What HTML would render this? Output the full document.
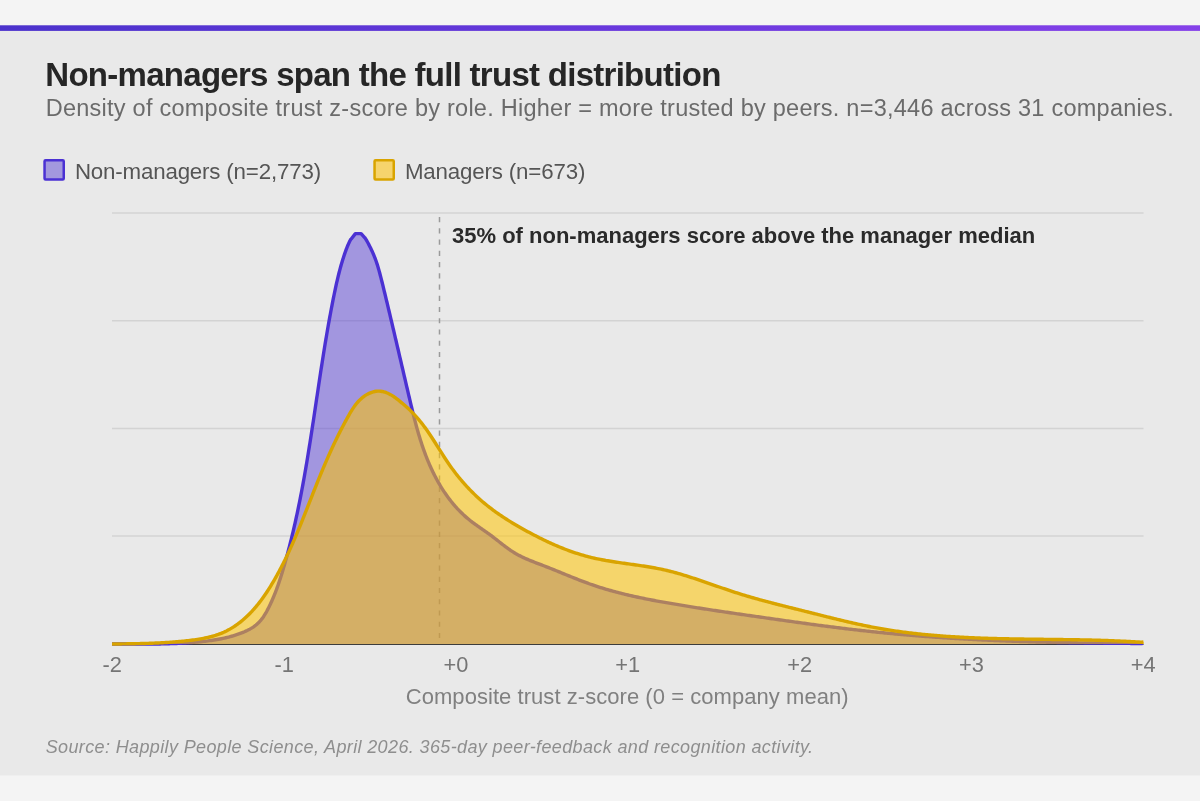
<!DOCTYPE html>
<html><head><meta charset="utf-8"><title>Non-managers span the full trust distribution</title>
<style>
html,body{margin:0;padding:0;}
body{width:1200px;height:801px;overflow:hidden;background:#f4f4f4;font-family:"Liberation Sans",sans-serif;position:relative;}
svg{position:absolute;left:0;top:0;will-change:transform;}
text{font-family:"Liberation Sans",sans-serif;}
</style></head>
<body>
<svg width="1200" height="801" viewBox="0 0 1200 801">
  <defs><linearGradient id="gb" x1="0" y1="0" x2="1" y2="0"><stop offset="0" stop-color="#4b32cc"/><stop offset="0.5" stop-color="#6838dc"/><stop offset="1" stop-color="#8541e9"/></linearGradient></defs>
  <rect x="0" y="25.3" width="1200" height="750.2" fill="#e9e9e9"/>
  <rect x="0" y="25.3" width="1200" height="5.6" fill="url(#gb)"/>
  <!-- header -->
  <text x="45.3" y="86" font-size="33" font-weight="bold" fill="#262626" letter-spacing="-0.72">Non-managers span the full trust distribution</text>
  <text x="45.7" y="115.7" font-size="23.5" fill="#6b6b6b" letter-spacing="0.25">Density of composite trust z-score by role. Higher = more trusted by peers. n=3,446 across 31 companies.</text>
  <!-- legend -->
  <rect x="44.55" y="160.25" width="19.2" height="19.2" rx="1" fill="#a398de" stroke="#4b31d3" stroke-width="2.5"/>
  <text x="74.9" y="178.9" font-size="22.3" fill="#555555" letter-spacing="-0.17">Non-managers (n=2,773)</text>
  <rect x="374.55" y="160.25" width="19.2" height="19.2" rx="1" fill="#f6d46c" stroke="#d9a400" stroke-width="2.5"/>
  <text x="404.9" y="178.9" font-size="22.3" fill="#555555" letter-spacing="-0.16">Managers (n=673)</text>
  <!-- grid -->
  <g stroke="#d3d3d3" stroke-width="1.5">
    <line x1="112" y1="213" x2="1143.5" y2="213"/>
    <line x1="112" y1="320.7" x2="1143.5" y2="320.7"/>
    <line x1="112" y1="428.4" x2="1143.5" y2="428.4"/>
    <line x1="112" y1="536.1" x2="1143.5" y2="536.1"/>
  </g>
  <line x1="112" y1="644.5" x2="1143.5" y2="644.5" stroke="#3c3c3c" stroke-width="1"/>
  <line x1="439.5" y1="217" x2="439.5" y2="644" stroke="#9a9a9a" stroke-width="1.5" stroke-dasharray="5.2 6.04"/>
  <!-- areas -->
  <path d="M112.00,644.00 L113.50,643.98 L115.01,643.99 L116.51,643.99 L118.01,643.99 L119.52,644.00 L121.02,644.00 L122.53,644.01 L124.03,644.01 L125.54,644.02 L127.04,644.03 L128.54,644.03 L130.05,644.04 L131.55,644.05 L133.05,644.05 L134.56,644.06 L136.06,644.06 L137.56,644.06 L139.07,644.07 L140.57,644.07 L142.07,644.07 L143.57,644.07 L145.08,644.06 L146.58,644.06 L148.08,644.05 L149.58,644.05 L151.08,644.04 L152.59,644.03 L154.09,644.01 L155.59,644.00 L157.09,643.98 L158.59,643.95 L160.09,643.93 L161.59,643.90 L163.09,643.87 L164.59,643.84 L166.09,643.80 L167.59,643.76 L169.09,643.72 L170.59,643.67 L172.09,643.62 L173.59,643.56 L175.09,643.50 L176.59,643.44 L178.09,643.37 L179.59,643.30 L181.09,643.22 L182.59,643.14 L184.09,643.05 L185.59,642.96 L187.08,642.87 L188.58,642.76 L190.08,642.66 L191.58,642.54 L193.08,642.42 L194.57,642.30 L196.07,642.17 L197.57,642.03 L199.06,641.89 L200.56,641.74 L202.06,641.58 L203.55,641.42 L205.05,641.25 L206.54,641.07 L208.04,640.89 L209.53,640.69 L211.02,640.48 L212.51,640.26 L214.00,640.04 L215.48,639.80 L216.97,639.55 L218.45,639.28 L219.93,639.01 L221.40,638.72 L222.87,638.41 L224.34,638.09 L225.81,637.76 L227.27,637.41 L228.73,637.04 L230.18,636.66 L231.63,636.26 L233.07,635.84 L234.51,635.40 L235.95,634.95 L237.38,634.47 L238.81,633.98 L240.23,633.46 L241.64,632.92 L243.04,632.36 L244.43,631.78 L245.81,631.16 L247.17,630.52 L248.51,629.85 L249.83,629.14 L251.12,628.40 L252.38,627.62 L253.62,626.80 L254.81,625.94 L255.97,625.03 L257.10,624.08 L258.18,623.09 L259.21,622.04 L260.20,620.95 L261.16,619.82 L262.07,618.64 L262.95,617.44 L263.80,616.20 L264.61,614.93 L265.40,613.64 L266.17,612.33 L266.91,611.00 L267.62,609.65 L268.32,608.29 L269.01,606.93 L269.68,605.56 L270.33,604.19 L270.97,602.81 L271.60,601.43 L272.22,600.04 L272.82,598.65 L273.41,597.26 L273.99,595.86 L274.56,594.46 L275.12,593.06 L275.67,591.65 L276.20,590.24 L276.73,588.83 L277.25,587.41 L277.76,585.99 L278.26,584.57 L278.75,583.15 L279.23,581.72 L279.71,580.29 L280.18,578.86 L280.64,577.43 L281.09,576.00 L281.54,574.56 L281.99,573.12 L282.42,571.69 L282.86,570.25 L283.28,568.80 L283.71,567.36 L284.13,565.92 L284.54,564.47 L284.95,563.03 L285.36,561.58 L285.77,560.14 L286.17,558.69 L286.57,557.24 L286.96,555.79 L287.36,554.35 L287.75,552.90 L288.13,551.45 L288.51,549.99 L288.89,548.54 L289.27,547.09 L289.64,545.64 L290.01,544.18 L290.38,542.73 L290.74,541.27 L291.11,539.82 L291.46,538.36 L291.82,536.91 L292.17,535.45 L292.52,533.99 L292.87,532.53 L293.21,531.07 L293.55,529.61 L293.89,528.15 L294.23,526.69 L294.56,525.23 L294.89,523.77 L295.22,522.31 L295.55,520.84 L295.87,519.38 L296.19,517.91 L296.51,516.45 L296.82,514.98 L297.14,513.52 L297.45,512.05 L297.76,510.59 L298.06,509.12 L298.37,507.65 L298.67,506.18 L298.97,504.71 L299.27,503.24 L299.56,501.77 L299.85,500.30 L300.15,498.83 L300.43,497.36 L300.72,495.89 L301.01,494.42 L301.29,492.95 L301.57,491.47 L301.85,490.00 L302.13,488.53 L302.40,487.05 L302.68,485.58 L302.95,484.10 L303.22,482.63 L303.49,481.15 L303.75,479.68 L304.02,478.20 L304.28,476.72 L304.54,475.25 L304.80,473.77 L305.06,472.29 L305.32,470.81 L305.58,469.34 L305.83,467.86 L306.08,466.38 L306.34,464.90 L306.59,463.42 L306.84,461.94 L307.08,460.46 L307.33,458.98 L307.57,457.50 L307.82,456.02 L308.06,454.54 L308.30,453.05 L308.54,451.57 L308.78,450.09 L309.02,448.61 L309.26,447.12 L309.50,445.64 L309.73,444.16 L309.97,442.68 L310.20,441.19 L310.43,439.71 L310.67,438.22 L310.90,436.74 L311.13,435.26 L311.36,433.77 L311.59,432.29 L311.82,430.80 L312.05,429.32 L312.27,427.83 L312.50,426.35 L312.73,424.86 L312.95,423.37 L313.18,421.89 L313.40,420.40 L313.63,418.92 L313.85,417.43 L314.07,415.94 L314.30,414.46 L314.52,412.97 L314.74,411.48 L314.97,410.00 L315.19,408.51 L315.41,407.02 L315.63,405.54 L315.86,404.05 L316.08,402.56 L316.30,401.07 L316.52,399.59 L316.74,398.10 L316.97,396.61 L317.19,395.13 L317.41,393.64 L317.63,392.15 L317.86,390.66 L318.08,389.18 L318.30,387.69 L318.53,386.20 L318.75,384.71 L318.97,383.23 L319.20,381.74 L319.42,380.25 L319.65,378.77 L319.87,377.28 L320.10,375.79 L320.33,374.30 L320.55,372.82 L320.78,371.33 L321.01,369.84 L321.24,368.36 L321.47,366.87 L321.70,365.38 L321.93,363.90 L322.16,362.41 L322.39,360.92 L322.63,359.44 L322.86,357.95 L323.10,356.47 L323.33,354.98 L323.57,353.49 L323.81,352.01 L324.05,350.52 L324.29,349.04 L324.53,347.55 L324.77,346.07 L325.02,344.58 L325.26,343.10 L325.51,341.61 L325.75,340.13 L326.00,338.65 L326.25,337.16 L326.50,335.68 L326.75,334.20 L327.01,332.71 L327.26,331.23 L327.52,329.75 L327.78,328.27 L328.04,326.78 L328.30,325.30 L328.56,323.82 L328.83,322.34 L329.09,320.86 L329.36,319.38 L329.63,317.90 L329.90,316.42 L330.17,314.94 L330.45,313.46 L330.72,311.98 L331.00,310.50 L331.28,309.02 L331.56,307.54 L331.85,306.06 L332.13,304.59 L332.42,303.11 L332.71,301.63 L333.00,300.16 L333.30,298.68 L333.60,297.20 L333.89,295.73 L334.20,294.25 L334.50,292.78 L334.81,291.31 L335.12,289.83 L335.43,288.36 L335.75,286.89 L336.07,285.42 L336.39,283.95 L336.72,282.49 L337.06,281.02 L337.40,279.56 L337.75,278.10 L338.10,276.64 L338.46,275.18 L338.82,273.72 L339.19,272.27 L339.57,270.82 L339.95,269.37 L340.34,267.93 L340.74,266.49 L341.15,265.05 L341.56,263.61 L341.99,262.18 L342.42,260.74 L342.86,259.32 L343.31,257.89 L343.77,256.47 L344.24,255.06 L344.71,253.65 L345.20,252.24 L345.70,250.83 L346.22,249.43 L346.76,248.03 L347.31,246.64 L347.89,245.25 L348.50,243.86 L349.14,242.47 L349.82,241.09 L350.53,239.70 L351.00,239.20 L355.40,233.60 L361.10,233.60 L365.10,238.10 L365.13,238.05 L365.95,239.37 L366.72,240.69 L367.47,241.99 L368.18,243.30 L368.87,244.60 L369.55,245.92 L370.21,247.24 L370.86,248.58 L371.50,249.93 L372.13,251.28 L372.74,252.65 L373.34,254.03 L373.92,255.42 L374.49,256.82 L375.03,258.22 L375.56,259.63 L376.07,261.04 L376.56,262.47 L377.03,263.89 L377.49,265.33 L377.93,266.76 L378.36,268.21 L378.77,269.65 L379.18,271.10 L379.57,272.55 L379.96,274.00 L380.34,275.45 L380.72,276.91 L381.10,278.37 L381.47,279.82 L381.84,281.28 L382.21,282.74 L382.57,284.20 L382.93,285.67 L383.29,287.13 L383.64,288.59 L384.00,290.05 L384.35,291.52 L384.71,292.98 L385.06,294.44 L385.41,295.90 L385.76,297.37 L386.11,298.83 L386.47,300.29 L386.82,301.75 L387.17,303.21 L387.52,304.67 L387.86,306.14 L388.21,307.60 L388.56,309.06 L388.91,310.52 L389.26,311.98 L389.61,313.44 L389.95,314.90 L390.30,316.37 L390.64,317.83 L390.99,319.29 L391.34,320.75 L391.68,322.21 L392.03,323.67 L392.37,325.13 L392.72,326.59 L393.06,328.05 L393.40,329.51 L393.75,330.97 L394.09,332.43 L394.44,333.90 L394.78,335.36 L395.12,336.82 L395.46,338.28 L395.81,339.74 L396.15,341.20 L396.49,342.66 L396.83,344.12 L397.17,345.58 L397.52,347.04 L397.86,348.50 L398.20,349.96 L398.54,351.42 L398.88,352.89 L399.22,354.35 L399.56,355.81 L399.90,357.27 L400.24,358.73 L400.58,360.19 L400.93,361.65 L401.27,363.12 L401.61,364.58 L401.95,366.04 L402.29,367.50 L402.63,368.96 L402.97,370.43 L403.31,371.89 L403.65,373.35 L403.99,374.81 L404.33,376.28 L404.67,377.74 L405.01,379.20 L405.35,380.66 L405.69,382.13 L406.03,383.59 L406.37,385.05 L406.71,386.52 L407.06,387.98 L407.40,389.45 L407.74,390.91 L408.08,392.38 L408.42,393.84 L408.76,395.31 L409.11,396.77 L409.45,398.24 L409.79,399.70 L410.14,401.17 L410.48,402.63 L410.83,404.10 L411.18,405.56 L411.53,407.02 L411.88,408.49 L412.23,409.95 L412.59,411.41 L412.95,412.87 L413.31,414.33 L413.68,415.79 L414.05,417.25 L414.42,418.71 L414.80,420.17 L415.18,421.62 L415.56,423.08 L415.95,424.53 L416.34,425.98 L416.74,427.43 L417.14,428.88 L417.55,430.32 L417.96,431.77 L418.38,433.21 L418.80,434.65 L419.23,436.09 L419.67,437.53 L420.11,438.96 L420.56,440.39 L421.02,441.82 L421.48,443.25 L421.95,444.68 L422.43,446.10 L422.91,447.52 L423.41,448.94 L423.91,450.35 L424.42,451.76 L424.93,453.17 L425.46,454.58 L425.99,455.98 L426.54,457.38 L427.09,458.77 L427.65,460.17 L428.23,461.55 L428.81,462.94 L429.40,464.32 L430.00,465.70 L430.62,467.07 L431.24,468.44 L431.88,469.81 L432.52,471.17 L433.17,472.53 L433.84,473.88 L434.52,475.22 L435.21,476.56 L435.90,477.89 L436.61,479.22 L437.33,480.54 L438.07,481.85 L438.81,483.16 L439.57,484.46 L440.33,485.75 L441.11,487.03 L441.90,488.31 L442.71,489.57 L443.52,490.83 L444.35,492.08 L445.19,493.32 L446.04,494.56 L446.90,495.78 L447.78,496.99 L448.67,498.19 L449.57,499.39 L450.48,500.57 L451.41,501.74 L452.35,502.90 L453.30,504.05 L454.27,505.19 L455.25,506.31 L456.24,507.43 L457.25,508.53 L458.27,509.62 L459.30,510.69 L460.35,511.76 L461.41,512.81 L462.48,513.84 L463.57,514.87 L464.68,515.88 L465.79,516.87 L466.92,517.85 L468.07,518.82 L469.23,519.77 L470.41,520.71 L471.60,521.63 L472.80,522.54 L474.01,523.44 L475.23,524.33 L476.46,525.21 L477.70,526.08 L478.94,526.95 L480.18,527.81 L481.43,528.68 L482.68,529.54 L483.93,530.41 L485.18,531.28 L486.42,532.15 L487.66,533.03 L488.90,533.91 L490.12,534.81 L491.34,535.72 L492.55,536.63 L493.75,537.56 L494.95,538.48 L496.14,539.42 L497.33,540.35 L498.52,541.29 L499.71,542.23 L500.89,543.16 L502.08,544.09 L503.27,545.01 L504.46,545.92 L505.66,546.82 L506.87,547.72 L508.08,548.59 L509.30,549.46 L510.53,550.30 L511.77,551.13 L513.02,551.94 L514.28,552.72 L515.56,553.49 L516.85,554.22 L518.15,554.94 L519.47,555.63 L520.80,556.31 L522.14,556.96 L523.49,557.60 L524.85,558.23 L526.21,558.83 L527.59,559.43 L528.97,560.01 L530.36,560.58 L531.76,561.15 L533.16,561.70 L534.56,562.25 L535.97,562.79 L537.38,563.33 L538.79,563.87 L540.20,564.40 L541.61,564.94 L543.03,565.47 L544.44,566.01 L545.85,566.56 L547.25,567.10 L548.66,567.65 L550.06,568.21 L551.46,568.77 L552.86,569.33 L554.26,569.89 L555.66,570.46 L557.05,571.02 L558.44,571.59 L559.84,572.16 L561.23,572.73 L562.62,573.31 L564.01,573.88 L565.40,574.45 L566.79,575.02 L568.19,575.59 L569.58,576.15 L570.97,576.72 L572.36,577.28 L573.75,577.84 L575.14,578.40 L576.54,578.95 L577.93,579.51 L579.33,580.05 L580.73,580.59 L582.12,581.13 L583.52,581.66 L584.93,582.19 L586.33,582.71 L587.74,583.22 L589.15,583.73 L590.56,584.23 L591.97,584.72 L593.39,585.21 L594.80,585.69 L596.22,586.16 L597.65,586.62 L599.07,587.08 L600.50,587.53 L601.93,587.98 L603.36,588.41 L604.79,588.85 L606.23,589.27 L607.66,589.69 L609.10,590.11 L610.54,590.51 L611.99,590.92 L613.43,591.31 L614.88,591.70 L616.33,592.09 L617.78,592.47 L619.23,592.84 L620.68,593.21 L622.14,593.58 L623.59,593.94 L625.05,594.29 L626.51,594.64 L627.97,594.99 L629.43,595.33 L630.90,595.66 L632.36,596.00 L633.83,596.32 L635.29,596.65 L636.76,596.97 L638.23,597.28 L639.70,597.59 L641.17,597.90 L642.64,598.21 L644.12,598.51 L645.59,598.80 L647.06,599.10 L648.54,599.39 L650.01,599.68 L651.49,599.96 L652.97,600.24 L654.45,600.52 L655.93,600.80 L657.40,601.07 L658.88,601.34 L660.36,601.61 L661.85,601.88 L663.33,602.14 L664.81,602.41 L666.29,602.67 L667.77,602.93 L669.25,603.18 L670.73,603.44 L672.22,603.69 L673.70,603.94 L675.18,604.19 L676.66,604.44 L678.14,604.69 L679.63,604.94 L681.11,605.18 L682.59,605.43 L684.07,605.67 L685.56,605.91 L687.04,606.16 L688.52,606.39 L690.00,606.63 L691.49,606.87 L692.97,607.11 L694.45,607.34 L695.93,607.58 L697.41,607.81 L698.90,608.04 L700.38,608.27 L701.86,608.51 L703.35,608.73 L704.83,608.96 L706.31,609.19 L707.79,609.42 L709.28,609.64 L710.76,609.87 L712.24,610.09 L713.73,610.32 L715.21,610.54 L716.69,610.76 L718.18,610.99 L719.66,611.21 L721.14,611.43 L722.63,611.65 L724.11,611.87 L725.59,612.09 L727.08,612.30 L728.56,612.52 L730.04,612.74 L731.53,612.95 L733.01,613.17 L734.50,613.39 L735.98,613.60 L737.46,613.82 L738.95,614.03 L740.43,614.25 L741.92,614.46 L743.40,614.67 L744.89,614.89 L746.37,615.10 L747.86,615.31 L749.34,615.52 L750.83,615.74 L752.31,615.95 L753.80,616.16 L755.28,616.37 L756.77,616.58 L758.25,616.80 L759.74,617.01 L761.22,617.22 L762.71,617.43 L764.19,617.64 L765.68,617.85 L767.17,618.07 L768.65,618.28 L770.14,618.49 L771.63,618.70 L773.11,618.91 L774.60,619.12 L776.09,619.34 L777.57,619.55 L779.06,619.76 L780.55,619.97 L782.03,620.18 L783.52,620.39 L785.01,620.60 L786.50,620.81 L787.98,621.02 L789.47,621.23 L790.96,621.44 L792.45,621.65 L793.94,621.86 L795.42,622.07 L796.91,622.27 L798.40,622.48 L799.89,622.69 L801.38,622.89 L802.87,623.10 L804.36,623.30 L805.84,623.51 L807.33,623.71 L808.82,623.91 L810.31,624.12 L811.80,624.32 L813.29,624.52 L814.78,624.72 L816.27,624.92 L817.76,625.12 L819.25,625.32 L820.74,625.51 L822.23,625.71 L823.72,625.90 L825.21,626.10 L826.70,626.29 L828.19,626.48 L829.68,626.68 L831.17,626.87 L832.66,627.06 L834.15,627.25 L835.64,627.43 L837.14,627.62 L838.63,627.80 L840.12,627.99 L841.61,628.17 L843.10,628.35 L844.59,628.53 L846.08,628.71 L847.58,628.89 L849.07,629.07 L850.56,629.24 L852.05,629.42 L853.54,629.59 L855.04,629.76 L856.53,629.93 L858.02,630.10 L859.51,630.27 L861.01,630.44 L862.50,630.60 L863.99,630.77 L865.49,630.93 L866.98,631.09 L868.47,631.25 L869.97,631.41 L871.46,631.57 L872.95,631.73 L874.45,631.89 L875.94,632.04 L877.43,632.19 L878.93,632.35 L880.42,632.50 L881.92,632.65 L883.41,632.79 L884.91,632.94 L886.40,633.09 L887.89,633.23 L889.39,633.38 L890.88,633.52 L892.38,633.66 L893.87,633.80 L895.37,633.94 L896.86,634.07 L898.36,634.21 L899.86,634.35 L901.35,634.48 L902.85,634.61 L904.34,634.74 L905.84,634.87 L907.34,635.00 L908.83,635.13 L910.33,635.26 L911.82,635.38 L913.32,635.50 L914.82,635.63 L916.31,635.75 L917.81,635.87 L919.31,635.99 L920.80,636.11 L922.30,636.22 L923.80,636.34 L925.30,636.45 L926.79,636.56 L928.29,636.68 L929.79,636.79 L931.29,636.90 L932.79,637.00 L934.28,637.11 L935.78,637.22 L937.28,637.32 L938.78,637.42 L940.28,637.53 L941.78,637.63 L943.27,637.73 L944.77,637.83 L946.27,637.92 L947.77,638.02 L949.27,638.11 L950.77,638.21 L952.27,638.30 L953.77,638.39 L955.27,638.48 L956.77,638.57 L958.27,638.66 L959.77,638.75 L961.27,638.83 L962.77,638.92 L964.27,639.00 L965.77,639.09 L967.27,639.17 L968.77,639.25 L970.27,639.33 L971.77,639.41 L973.27,639.49 L974.77,639.56 L976.27,639.64 L977.77,639.71 L979.27,639.79 L980.77,639.86 L982.27,639.93 L983.78,640.00 L985.28,640.07 L986.78,640.14 L988.28,640.21 L989.78,640.28 L991.28,640.34 L992.78,640.41 L994.29,640.47 L995.79,640.54 L997.29,640.60 L998.79,640.66 L1000.29,640.72 L1001.79,640.78 L1003.30,640.84 L1004.80,640.90 L1006.30,640.96 L1007.80,641.01 L1009.30,641.07 L1010.81,641.12 L1012.31,641.18 L1013.81,641.23 L1015.31,641.28 L1016.81,641.33 L1018.32,641.38 L1019.82,641.43 L1021.32,641.48 L1022.82,641.53 L1024.33,641.58 L1025.83,641.62 L1027.33,641.67 L1028.83,641.72 L1030.34,641.76 L1031.84,641.80 L1033.34,641.85 L1034.84,641.89 L1036.35,641.93 L1037.85,641.97 L1039.35,642.01 L1040.85,642.05 L1042.36,642.09 L1043.86,642.13 L1045.36,642.17 L1046.86,642.20 L1048.37,642.24 L1049.87,642.27 L1051.37,642.31 L1052.87,642.34 L1054.38,642.38 L1055.88,642.41 L1057.38,642.44 L1058.89,642.47 L1060.39,642.50 L1061.89,642.54 L1063.39,642.57 L1064.90,642.59 L1066.40,642.62 L1067.90,642.65 L1069.40,642.68 L1070.91,642.71 L1072.41,642.73 L1073.91,642.76 L1075.41,642.79 L1076.92,642.81 L1078.42,642.83 L1079.92,642.86 L1081.42,642.88 L1082.93,642.91 L1084.43,642.93 L1085.93,642.95 L1087.43,642.97 L1088.94,642.99 L1090.44,643.01 L1091.94,643.03 L1093.44,643.05 L1094.94,643.07 L1096.45,643.09 L1097.95,643.11 L1099.45,643.13 L1100.95,643.15 L1102.45,643.16 L1103.96,643.18 L1105.46,643.20 L1106.96,643.21 L1108.46,643.23 L1109.96,643.25 L1111.47,643.26 L1112.97,643.28 L1114.47,643.29 L1115.97,643.30 L1117.47,643.32 L1118.97,643.33 L1120.47,643.35 L1121.98,643.36 L1123.48,643.37 L1124.98,643.38 L1126.48,643.40 L1127.98,643.41 L1129.48,643.42 L1130.98,643.43 L1132.48,643.44 L1133.98,643.45 L1135.48,643.46 L1136.98,643.47 L1138.49,643.48 L1139.99,643.49 L1141.49,643.50 L1143.00,643.30 L1143.00,644 L112.00,644 Z" fill="rgba(75,49,211,0.45)"/>
  <path d="M112.00,644.00 L113.50,643.98 L115.01,643.99 L116.51,643.99 L118.01,643.99 L119.52,644.00 L121.02,644.00 L122.53,644.01 L124.03,644.01 L125.54,644.02 L127.04,644.03 L128.54,644.03 L130.05,644.04 L131.55,644.05 L133.05,644.05 L134.56,644.06 L136.06,644.06 L137.56,644.06 L139.07,644.07 L140.57,644.07 L142.07,644.07 L143.57,644.07 L145.08,644.06 L146.58,644.06 L148.08,644.05 L149.58,644.05 L151.08,644.04 L152.59,644.03 L154.09,644.01 L155.59,644.00 L157.09,643.98 L158.59,643.95 L160.09,643.93 L161.59,643.90 L163.09,643.87 L164.59,643.84 L166.09,643.80 L167.59,643.76 L169.09,643.72 L170.59,643.67 L172.09,643.62 L173.59,643.56 L175.09,643.50 L176.59,643.44 L178.09,643.37 L179.59,643.30 L181.09,643.22 L182.59,643.14 L184.09,643.05 L185.59,642.96 L187.08,642.87 L188.58,642.76 L190.08,642.66 L191.58,642.54 L193.08,642.42 L194.57,642.30 L196.07,642.17 L197.57,642.03 L199.06,641.89 L200.56,641.74 L202.06,641.58 L203.55,641.42 L205.05,641.25 L206.54,641.07 L208.04,640.89 L209.53,640.69 L211.02,640.48 L212.51,640.26 L214.00,640.04 L215.48,639.80 L216.97,639.55 L218.45,639.28 L219.93,639.01 L221.40,638.72 L222.87,638.41 L224.34,638.09 L225.81,637.76 L227.27,637.41 L228.73,637.04 L230.18,636.66 L231.63,636.26 L233.07,635.84 L234.51,635.40 L235.95,634.95 L237.38,634.47 L238.81,633.98 L240.23,633.46 L241.64,632.92 L243.04,632.36 L244.43,631.78 L245.81,631.16 L247.17,630.52 L248.51,629.85 L249.83,629.14 L251.12,628.40 L252.38,627.62 L253.62,626.80 L254.81,625.94 L255.97,625.03 L257.10,624.08 L258.18,623.09 L259.21,622.04 L260.20,620.95 L261.16,619.82 L262.07,618.64 L262.95,617.44 L263.80,616.20 L264.61,614.93 L265.40,613.64 L266.17,612.33 L266.91,611.00 L267.62,609.65 L268.32,608.29 L269.01,606.93 L269.68,605.56 L270.33,604.19 L270.97,602.81 L271.60,601.43 L272.22,600.04 L272.82,598.65 L273.41,597.26 L273.99,595.86 L274.56,594.46 L275.12,593.06 L275.67,591.65 L276.20,590.24 L276.73,588.83 L277.25,587.41 L277.76,585.99 L278.26,584.57 L278.75,583.15 L279.23,581.72 L279.71,580.29 L280.18,578.86 L280.64,577.43 L281.09,576.00 L281.54,574.56 L281.99,573.12 L282.42,571.69 L282.86,570.25 L283.28,568.80 L283.71,567.36 L284.13,565.92 L284.54,564.47 L284.95,563.03 L285.36,561.58 L285.77,560.14 L286.17,558.69 L286.57,557.24 L286.96,555.79 L287.36,554.35 L287.75,552.90 L288.13,551.45 L288.51,549.99 L288.89,548.54 L289.27,547.09 L289.64,545.64 L290.01,544.18 L290.38,542.73 L290.74,541.27 L291.11,539.82 L291.46,538.36 L291.82,536.91 L292.17,535.45 L292.52,533.99 L292.87,532.53 L293.21,531.07 L293.55,529.61 L293.89,528.15 L294.23,526.69 L294.56,525.23 L294.89,523.77 L295.22,522.31 L295.55,520.84 L295.87,519.38 L296.19,517.91 L296.51,516.45 L296.82,514.98 L297.14,513.52 L297.45,512.05 L297.76,510.59 L298.06,509.12 L298.37,507.65 L298.67,506.18 L298.97,504.71 L299.27,503.24 L299.56,501.77 L299.85,500.30 L300.15,498.83 L300.43,497.36 L300.72,495.89 L301.01,494.42 L301.29,492.95 L301.57,491.47 L301.85,490.00 L302.13,488.53 L302.40,487.05 L302.68,485.58 L302.95,484.10 L303.22,482.63 L303.49,481.15 L303.75,479.68 L304.02,478.20 L304.28,476.72 L304.54,475.25 L304.80,473.77 L305.06,472.29 L305.32,470.81 L305.58,469.34 L305.83,467.86 L306.08,466.38 L306.34,464.90 L306.59,463.42 L306.84,461.94 L307.08,460.46 L307.33,458.98 L307.57,457.50 L307.82,456.02 L308.06,454.54 L308.30,453.05 L308.54,451.57 L308.78,450.09 L309.02,448.61 L309.26,447.12 L309.50,445.64 L309.73,444.16 L309.97,442.68 L310.20,441.19 L310.43,439.71 L310.67,438.22 L310.90,436.74 L311.13,435.26 L311.36,433.77 L311.59,432.29 L311.82,430.80 L312.05,429.32 L312.27,427.83 L312.50,426.35 L312.73,424.86 L312.95,423.37 L313.18,421.89 L313.40,420.40 L313.63,418.92 L313.85,417.43 L314.07,415.94 L314.30,414.46 L314.52,412.97 L314.74,411.48 L314.97,410.00 L315.19,408.51 L315.41,407.02 L315.63,405.54 L315.86,404.05 L316.08,402.56 L316.30,401.07 L316.52,399.59 L316.74,398.10 L316.97,396.61 L317.19,395.13 L317.41,393.64 L317.63,392.15 L317.86,390.66 L318.08,389.18 L318.30,387.69 L318.53,386.20 L318.75,384.71 L318.97,383.23 L319.20,381.74 L319.42,380.25 L319.65,378.77 L319.87,377.28 L320.10,375.79 L320.33,374.30 L320.55,372.82 L320.78,371.33 L321.01,369.84 L321.24,368.36 L321.47,366.87 L321.70,365.38 L321.93,363.90 L322.16,362.41 L322.39,360.92 L322.63,359.44 L322.86,357.95 L323.10,356.47 L323.33,354.98 L323.57,353.49 L323.81,352.01 L324.05,350.52 L324.29,349.04 L324.53,347.55 L324.77,346.07 L325.02,344.58 L325.26,343.10 L325.51,341.61 L325.75,340.13 L326.00,338.65 L326.25,337.16 L326.50,335.68 L326.75,334.20 L327.01,332.71 L327.26,331.23 L327.52,329.75 L327.78,328.27 L328.04,326.78 L328.30,325.30 L328.56,323.82 L328.83,322.34 L329.09,320.86 L329.36,319.38 L329.63,317.90 L329.90,316.42 L330.17,314.94 L330.45,313.46 L330.72,311.98 L331.00,310.50 L331.28,309.02 L331.56,307.54 L331.85,306.06 L332.13,304.59 L332.42,303.11 L332.71,301.63 L333.00,300.16 L333.30,298.68 L333.60,297.20 L333.89,295.73 L334.20,294.25 L334.50,292.78 L334.81,291.31 L335.12,289.83 L335.43,288.36 L335.75,286.89 L336.07,285.42 L336.39,283.95 L336.72,282.49 L337.06,281.02 L337.40,279.56 L337.75,278.10 L338.10,276.64 L338.46,275.18 L338.82,273.72 L339.19,272.27 L339.57,270.82 L339.95,269.37 L340.34,267.93 L340.74,266.49 L341.15,265.05 L341.56,263.61 L341.99,262.18 L342.42,260.74 L342.86,259.32 L343.31,257.89 L343.77,256.47 L344.24,255.06 L344.71,253.65 L345.20,252.24 L345.70,250.83 L346.22,249.43 L346.76,248.03 L347.31,246.64 L347.89,245.25 L348.50,243.86 L349.14,242.47 L349.82,241.09 L350.53,239.70 L351.00,239.20 L355.40,233.60 L361.10,233.60 L365.10,238.10 L365.13,238.05 L365.95,239.37 L366.72,240.69 L367.47,241.99 L368.18,243.30 L368.87,244.60 L369.55,245.92 L370.21,247.24 L370.86,248.58 L371.50,249.93 L372.13,251.28 L372.74,252.65 L373.34,254.03 L373.92,255.42 L374.49,256.82 L375.03,258.22 L375.56,259.63 L376.07,261.04 L376.56,262.47 L377.03,263.89 L377.49,265.33 L377.93,266.76 L378.36,268.21 L378.77,269.65 L379.18,271.10 L379.57,272.55 L379.96,274.00 L380.34,275.45 L380.72,276.91 L381.10,278.37 L381.47,279.82 L381.84,281.28 L382.21,282.74 L382.57,284.20 L382.93,285.67 L383.29,287.13 L383.64,288.59 L384.00,290.05 L384.35,291.52 L384.71,292.98 L385.06,294.44 L385.41,295.90 L385.76,297.37 L386.11,298.83 L386.47,300.29 L386.82,301.75 L387.17,303.21 L387.52,304.67 L387.86,306.14 L388.21,307.60 L388.56,309.06 L388.91,310.52 L389.26,311.98 L389.61,313.44 L389.95,314.90 L390.30,316.37 L390.64,317.83 L390.99,319.29 L391.34,320.75 L391.68,322.21 L392.03,323.67 L392.37,325.13 L392.72,326.59 L393.06,328.05 L393.40,329.51 L393.75,330.97 L394.09,332.43 L394.44,333.90 L394.78,335.36 L395.12,336.82 L395.46,338.28 L395.81,339.74 L396.15,341.20 L396.49,342.66 L396.83,344.12 L397.17,345.58 L397.52,347.04 L397.86,348.50 L398.20,349.96 L398.54,351.42 L398.88,352.89 L399.22,354.35 L399.56,355.81 L399.90,357.27 L400.24,358.73 L400.58,360.19 L400.93,361.65 L401.27,363.12 L401.61,364.58 L401.95,366.04 L402.29,367.50 L402.63,368.96 L402.97,370.43 L403.31,371.89 L403.65,373.35 L403.99,374.81 L404.33,376.28 L404.67,377.74 L405.01,379.20 L405.35,380.66 L405.69,382.13 L406.03,383.59 L406.37,385.05 L406.71,386.52 L407.06,387.98 L407.40,389.45 L407.74,390.91 L408.08,392.38 L408.42,393.84 L408.76,395.31 L409.11,396.77 L409.45,398.24 L409.79,399.70 L410.14,401.17 L410.48,402.63 L410.83,404.10 L411.18,405.56 L411.53,407.02 L411.88,408.49 L412.23,409.95 L412.59,411.41 L412.95,412.87 L413.31,414.33 L413.68,415.79 L414.05,417.25 L414.42,418.71 L414.80,420.17 L415.18,421.62 L415.56,423.08 L415.95,424.53 L416.34,425.98 L416.74,427.43 L417.14,428.88 L417.55,430.32 L417.96,431.77 L418.38,433.21 L418.80,434.65 L419.23,436.09 L419.67,437.53 L420.11,438.96 L420.56,440.39 L421.02,441.82 L421.48,443.25 L421.95,444.68 L422.43,446.10 L422.91,447.52 L423.41,448.94 L423.91,450.35 L424.42,451.76 L424.93,453.17 L425.46,454.58 L425.99,455.98 L426.54,457.38 L427.09,458.77 L427.65,460.17 L428.23,461.55 L428.81,462.94 L429.40,464.32 L430.00,465.70 L430.62,467.07 L431.24,468.44 L431.88,469.81 L432.52,471.17 L433.17,472.53 L433.84,473.88 L434.52,475.22 L435.21,476.56 L435.90,477.89 L436.61,479.22 L437.33,480.54 L438.07,481.85 L438.81,483.16 L439.57,484.46 L440.33,485.75 L441.11,487.03 L441.90,488.31 L442.71,489.57 L443.52,490.83 L444.35,492.08 L445.19,493.32 L446.04,494.56 L446.90,495.78 L447.78,496.99 L448.67,498.19 L449.57,499.39 L450.48,500.57 L451.41,501.74 L452.35,502.90 L453.30,504.05 L454.27,505.19 L455.25,506.31 L456.24,507.43 L457.25,508.53 L458.27,509.62 L459.30,510.69 L460.35,511.76 L461.41,512.81 L462.48,513.84 L463.57,514.87 L464.68,515.88 L465.79,516.87 L466.92,517.85 L468.07,518.82 L469.23,519.77 L470.41,520.71 L471.60,521.63 L472.80,522.54 L474.01,523.44 L475.23,524.33 L476.46,525.21 L477.70,526.08 L478.94,526.95 L480.18,527.81 L481.43,528.68 L482.68,529.54 L483.93,530.41 L485.18,531.28 L486.42,532.15 L487.66,533.03 L488.90,533.91 L490.12,534.81 L491.34,535.72 L492.55,536.63 L493.75,537.56 L494.95,538.48 L496.14,539.42 L497.33,540.35 L498.52,541.29 L499.71,542.23 L500.89,543.16 L502.08,544.09 L503.27,545.01 L504.46,545.92 L505.66,546.82 L506.87,547.72 L508.08,548.59 L509.30,549.46 L510.53,550.30 L511.77,551.13 L513.02,551.94 L514.28,552.72 L515.56,553.49 L516.85,554.22 L518.15,554.94 L519.47,555.63 L520.80,556.31 L522.14,556.96 L523.49,557.60 L524.85,558.23 L526.21,558.83 L527.59,559.43 L528.97,560.01 L530.36,560.58 L531.76,561.15 L533.16,561.70 L534.56,562.25 L535.97,562.79 L537.38,563.33 L538.79,563.87 L540.20,564.40 L541.61,564.94 L543.03,565.47 L544.44,566.01 L545.85,566.56 L547.25,567.10 L548.66,567.65 L550.06,568.21 L551.46,568.77 L552.86,569.33 L554.26,569.89 L555.66,570.46 L557.05,571.02 L558.44,571.59 L559.84,572.16 L561.23,572.73 L562.62,573.31 L564.01,573.88 L565.40,574.45 L566.79,575.02 L568.19,575.59 L569.58,576.15 L570.97,576.72 L572.36,577.28 L573.75,577.84 L575.14,578.40 L576.54,578.95 L577.93,579.51 L579.33,580.05 L580.73,580.59 L582.12,581.13 L583.52,581.66 L584.93,582.19 L586.33,582.71 L587.74,583.22 L589.15,583.73 L590.56,584.23 L591.97,584.72 L593.39,585.21 L594.80,585.69 L596.22,586.16 L597.65,586.62 L599.07,587.08 L600.50,587.53 L601.93,587.98 L603.36,588.41 L604.79,588.85 L606.23,589.27 L607.66,589.69 L609.10,590.11 L610.54,590.51 L611.99,590.92 L613.43,591.31 L614.88,591.70 L616.33,592.09 L617.78,592.47 L619.23,592.84 L620.68,593.21 L622.14,593.58 L623.59,593.94 L625.05,594.29 L626.51,594.64 L627.97,594.99 L629.43,595.33 L630.90,595.66 L632.36,596.00 L633.83,596.32 L635.29,596.65 L636.76,596.97 L638.23,597.28 L639.70,597.59 L641.17,597.90 L642.64,598.21 L644.12,598.51 L645.59,598.80 L647.06,599.10 L648.54,599.39 L650.01,599.68 L651.49,599.96 L652.97,600.24 L654.45,600.52 L655.93,600.80 L657.40,601.07 L658.88,601.34 L660.36,601.61 L661.85,601.88 L663.33,602.14 L664.81,602.41 L666.29,602.67 L667.77,602.93 L669.25,603.18 L670.73,603.44 L672.22,603.69 L673.70,603.94 L675.18,604.19 L676.66,604.44 L678.14,604.69 L679.63,604.94 L681.11,605.18 L682.59,605.43 L684.07,605.67 L685.56,605.91 L687.04,606.16 L688.52,606.39 L690.00,606.63 L691.49,606.87 L692.97,607.11 L694.45,607.34 L695.93,607.58 L697.41,607.81 L698.90,608.04 L700.38,608.27 L701.86,608.51 L703.35,608.73 L704.83,608.96 L706.31,609.19 L707.79,609.42 L709.28,609.64 L710.76,609.87 L712.24,610.09 L713.73,610.32 L715.21,610.54 L716.69,610.76 L718.18,610.99 L719.66,611.21 L721.14,611.43 L722.63,611.65 L724.11,611.87 L725.59,612.09 L727.08,612.30 L728.56,612.52 L730.04,612.74 L731.53,612.95 L733.01,613.17 L734.50,613.39 L735.98,613.60 L737.46,613.82 L738.95,614.03 L740.43,614.25 L741.92,614.46 L743.40,614.67 L744.89,614.89 L746.37,615.10 L747.86,615.31 L749.34,615.52 L750.83,615.74 L752.31,615.95 L753.80,616.16 L755.28,616.37 L756.77,616.58 L758.25,616.80 L759.74,617.01 L761.22,617.22 L762.71,617.43 L764.19,617.64 L765.68,617.85 L767.17,618.07 L768.65,618.28 L770.14,618.49 L771.63,618.70 L773.11,618.91 L774.60,619.12 L776.09,619.34 L777.57,619.55 L779.06,619.76 L780.55,619.97 L782.03,620.18 L783.52,620.39 L785.01,620.60 L786.50,620.81 L787.98,621.02 L789.47,621.23 L790.96,621.44 L792.45,621.65 L793.94,621.86 L795.42,622.07 L796.91,622.27 L798.40,622.48 L799.89,622.69 L801.38,622.89 L802.87,623.10 L804.36,623.30 L805.84,623.51 L807.33,623.71 L808.82,623.91 L810.31,624.12 L811.80,624.32 L813.29,624.52 L814.78,624.72 L816.27,624.92 L817.76,625.12 L819.25,625.32 L820.74,625.51 L822.23,625.71 L823.72,625.90 L825.21,626.10 L826.70,626.29 L828.19,626.48 L829.68,626.68 L831.17,626.87 L832.66,627.06 L834.15,627.25 L835.64,627.43 L837.14,627.62 L838.63,627.80 L840.12,627.99 L841.61,628.17 L843.10,628.35 L844.59,628.53 L846.08,628.71 L847.58,628.89 L849.07,629.07 L850.56,629.24 L852.05,629.42 L853.54,629.59 L855.04,629.76 L856.53,629.93 L858.02,630.10 L859.51,630.27 L861.01,630.44 L862.50,630.60 L863.99,630.77 L865.49,630.93 L866.98,631.09 L868.47,631.25 L869.97,631.41 L871.46,631.57 L872.95,631.73 L874.45,631.89 L875.94,632.04 L877.43,632.19 L878.93,632.35 L880.42,632.50 L881.92,632.65 L883.41,632.79 L884.91,632.94 L886.40,633.09 L887.89,633.23 L889.39,633.38 L890.88,633.52 L892.38,633.66 L893.87,633.80 L895.37,633.94 L896.86,634.07 L898.36,634.21 L899.86,634.35 L901.35,634.48 L902.85,634.61 L904.34,634.74 L905.84,634.87 L907.34,635.00 L908.83,635.13 L910.33,635.26 L911.82,635.38 L913.32,635.50 L914.82,635.63 L916.31,635.75 L917.81,635.87 L919.31,635.99 L920.80,636.11 L922.30,636.22 L923.80,636.34 L925.30,636.45 L926.79,636.56 L928.29,636.68 L929.79,636.79 L931.29,636.90 L932.79,637.00 L934.28,637.11 L935.78,637.22 L937.28,637.32 L938.78,637.42 L940.28,637.53 L941.78,637.63 L943.27,637.73 L944.77,637.83 L946.27,637.92 L947.77,638.02 L949.27,638.11 L950.77,638.21 L952.27,638.30 L953.77,638.39 L955.27,638.48 L956.77,638.57 L958.27,638.66 L959.77,638.75 L961.27,638.83 L962.77,638.92 L964.27,639.00 L965.77,639.09 L967.27,639.17 L968.77,639.25 L970.27,639.33 L971.77,639.41 L973.27,639.49 L974.77,639.56 L976.27,639.64 L977.77,639.71 L979.27,639.79 L980.77,639.86 L982.27,639.93 L983.78,640.00 L985.28,640.07 L986.78,640.14 L988.28,640.21 L989.78,640.28 L991.28,640.34 L992.78,640.41 L994.29,640.47 L995.79,640.54 L997.29,640.60 L998.79,640.66 L1000.29,640.72 L1001.79,640.78 L1003.30,640.84 L1004.80,640.90 L1006.30,640.96 L1007.80,641.01 L1009.30,641.07 L1010.81,641.12 L1012.31,641.18 L1013.81,641.23 L1015.31,641.28 L1016.81,641.33 L1018.32,641.38 L1019.82,641.43 L1021.32,641.48 L1022.82,641.53 L1024.33,641.58 L1025.83,641.62 L1027.33,641.67 L1028.83,641.72 L1030.34,641.76 L1031.84,641.80 L1033.34,641.85 L1034.84,641.89 L1036.35,641.93 L1037.85,641.97 L1039.35,642.01 L1040.85,642.05 L1042.36,642.09 L1043.86,642.13 L1045.36,642.17 L1046.86,642.20 L1048.37,642.24 L1049.87,642.27 L1051.37,642.31 L1052.87,642.34 L1054.38,642.38 L1055.88,642.41 L1057.38,642.44 L1058.89,642.47 L1060.39,642.50 L1061.89,642.54 L1063.39,642.57 L1064.90,642.59 L1066.40,642.62 L1067.90,642.65 L1069.40,642.68 L1070.91,642.71 L1072.41,642.73 L1073.91,642.76 L1075.41,642.79 L1076.92,642.81 L1078.42,642.83 L1079.92,642.86 L1081.42,642.88 L1082.93,642.91 L1084.43,642.93 L1085.93,642.95 L1087.43,642.97 L1088.94,642.99 L1090.44,643.01 L1091.94,643.03 L1093.44,643.05 L1094.94,643.07 L1096.45,643.09 L1097.95,643.11 L1099.45,643.13 L1100.95,643.15 L1102.45,643.16 L1103.96,643.18 L1105.46,643.20 L1106.96,643.21 L1108.46,643.23 L1109.96,643.25 L1111.47,643.26 L1112.97,643.28 L1114.47,643.29 L1115.97,643.30 L1117.47,643.32 L1118.97,643.33 L1120.47,643.35 L1121.98,643.36 L1123.48,643.37 L1124.98,643.38 L1126.48,643.40 L1127.98,643.41 L1129.48,643.42 L1130.98,643.43 L1132.48,643.44 L1133.98,643.45 L1135.48,643.46 L1136.98,643.47 L1138.49,643.48 L1139.99,643.49 L1141.49,643.50 L1143.00,643.30" fill="none" stroke="#4b31d3" stroke-width="3.4" stroke-linejoin="round"/>
  <path d="M112.00,644.00 L113.50,644.06 L115.05,644.03 L116.59,644.01 L118.13,643.98 L119.66,643.95 L121.19,643.93 L122.71,643.90 L124.23,643.88 L125.75,643.85 L127.26,643.82 L128.77,643.80 L130.27,643.77 L131.77,643.74 L133.27,643.71 L134.76,643.68 L136.25,643.65 L137.74,643.62 L139.23,643.59 L140.71,643.55 L142.20,643.52 L143.68,643.48 L145.16,643.43 L146.64,643.39 L148.11,643.35 L149.59,643.30 L151.06,643.24 L152.54,643.19 L154.01,643.13 L155.48,643.07 L156.96,643.01 L158.43,642.94 L159.91,642.87 L161.38,642.79 L162.86,642.71 L164.33,642.63 L165.81,642.54 L167.29,642.45 L168.77,642.35 L170.25,642.25 L171.74,642.14 L173.23,642.03 L174.71,641.91 L176.21,641.79 L177.70,641.66 L179.20,641.53 L180.70,641.39 L182.20,641.24 L183.71,641.09 L185.22,640.93 L186.73,640.77 L188.25,640.59 L189.78,640.41 L191.30,640.23 L192.83,640.03 L194.36,639.82 L195.89,639.61 L197.42,639.38 L198.95,639.14 L200.47,638.88 L202.00,638.62 L203.51,638.33 L205.03,638.03 L206.53,637.71 L208.03,637.38 L209.52,637.02 L211.00,636.65 L212.47,636.26 L213.93,635.84 L215.38,635.40 L216.81,634.93 L218.23,634.45 L219.64,633.93 L221.03,633.39 L222.40,632.82 L223.76,632.23 L225.10,631.61 L226.43,630.97 L227.73,630.30 L229.03,629.61 L230.31,628.89 L231.57,628.15 L232.82,627.38 L234.05,626.60 L235.27,625.79 L236.48,624.96 L237.67,624.11 L238.85,623.23 L240.01,622.34 L241.16,621.43 L242.29,620.50 L243.41,619.54 L244.52,618.58 L245.62,617.59 L246.70,616.58 L247.77,615.56 L248.83,614.52 L249.87,613.47 L250.90,612.40 L251.92,611.31 L252.93,610.21 L253.92,609.10 L254.91,607.97 L255.88,606.83 L256.84,605.67 L257.79,604.50 L258.73,603.32 L259.66,602.13 L260.58,600.93 L261.49,599.72 L262.39,598.49 L263.27,597.26 L264.15,596.02 L265.02,594.77 L265.88,593.51 L266.72,592.24 L267.56,590.96 L268.39,589.68 L269.21,588.39 L270.03,587.10 L270.83,585.80 L271.62,584.49 L272.41,583.18 L273.19,581.87 L273.96,580.55 L274.72,579.23 L275.48,577.90 L276.23,576.58 L276.97,575.25 L277.70,573.92 L278.43,572.58 L279.15,571.25 L279.86,569.91 L280.56,568.57 L281.26,567.23 L281.96,565.89 L282.64,564.54 L283.32,563.20 L284.00,561.85 L284.67,560.50 L285.33,559.15 L285.99,557.79 L286.64,556.44 L287.29,555.08 L287.93,553.72 L288.57,552.36 L289.20,551.00 L289.83,549.64 L290.45,548.28 L291.07,546.91 L291.68,545.54 L292.29,544.18 L292.90,542.81 L293.50,541.44 L294.10,540.06 L294.69,538.69 L295.28,537.32 L295.87,535.94 L296.46,534.57 L297.04,533.19 L297.61,531.81 L298.19,530.43 L298.76,529.05 L299.33,527.67 L299.90,526.29 L300.47,524.91 L301.03,523.53 L301.59,522.14 L302.15,520.76 L302.71,519.37 L303.26,517.99 L303.82,516.60 L304.37,515.21 L304.92,513.82 L305.47,512.44 L306.02,511.05 L306.57,509.66 L307.12,508.27 L307.67,506.88 L308.21,505.49 L308.76,504.10 L309.31,502.71 L309.85,501.32 L310.40,499.93 L310.95,498.54 L311.49,497.15 L312.04,495.76 L312.59,494.36 L313.14,492.97 L313.69,491.58 L314.24,490.19 L314.80,488.80 L315.35,487.41 L315.91,486.02 L316.46,484.63 L317.02,483.24 L317.58,481.85 L318.15,480.46 L318.71,479.07 L319.28,477.68 L319.85,476.29 L320.42,474.90 L320.99,473.52 L321.57,472.13 L322.15,470.74 L322.73,469.36 L323.31,467.97 L323.90,466.59 L324.49,465.21 L325.08,463.83 L325.68,462.44 L326.28,461.06 L326.88,459.69 L327.48,458.31 L328.09,456.93 L328.70,455.55 L329.32,454.18 L329.93,452.81 L330.56,451.43 L331.18,450.06 L331.81,448.69 L332.44,447.33 L333.08,445.96 L333.72,444.59 L334.36,443.23 L335.01,441.87 L335.67,440.51 L336.32,439.15 L336.98,437.79 L337.65,436.44 L338.32,435.08 L338.99,433.73 L339.67,432.38 L340.36,431.04 L341.04,429.69 L341.74,428.35 L342.44,427.00 L343.14,425.67 L343.85,424.33 L344.56,422.99 L345.28,421.66 L346.00,420.33 L346.73,419.00 L347.47,417.68 L348.21,416.35 L348.95,415.04 L349.71,413.72 L350.47,412.42 L351.25,411.12 L352.05,409.84 L352.86,408.58 L353.70,407.34 L354.56,406.11 L355.44,404.92 L356.36,403.75 L357.30,402.61 L358.28,401.50 L359.30,400.42 L360.35,399.39 L361.44,398.39 L362.58,397.44 L363.77,396.53 L365.00,395.67 L366.28,394.87 L367.60,394.12 L368.97,393.43 L370.37,392.83 L371.79,392.30 L373.24,391.86 L374.71,391.51 L376.19,391.27 L377.67,391.14 L379.16,391.12 L380.64,391.23 L382.11,391.45 L383.57,391.78 L385.01,392.19 L386.43,392.70 L387.83,393.28 L389.19,393.93 L390.52,394.63 L391.82,395.38 L393.09,396.18 L394.33,397.02 L395.55,397.89 L396.75,398.79 L397.94,399.71 L399.12,400.66 L400.29,401.61 L401.45,402.57 L402.61,403.54 L403.76,404.52 L404.90,405.52 L406.03,406.52 L407.15,407.53 L408.26,408.55 L409.36,409.59 L410.44,410.63 L411.52,411.69 L412.58,412.75 L413.62,413.83 L414.65,414.92 L415.67,416.03 L416.66,417.14 L417.65,418.27 L418.61,419.40 L419.57,420.55 L420.51,421.71 L421.44,422.88 L422.35,424.05 L423.26,425.24 L424.15,426.43 L425.03,427.63 L425.90,428.84 L426.77,430.06 L427.62,431.28 L428.47,432.51 L429.31,433.75 L430.14,434.99 L430.97,436.23 L431.79,437.48 L432.61,438.74 L433.42,439.99 L434.23,441.26 L435.03,442.52 L435.83,443.78 L436.63,445.05 L437.43,446.32 L438.23,447.59 L439.03,448.86 L439.83,450.13 L440.63,451.40 L441.44,452.67 L442.24,453.93 L443.05,455.20 L443.86,456.46 L444.68,457.72 L445.50,458.98 L446.33,460.23 L447.16,461.48 L448.00,462.73 L448.85,463.97 L449.70,465.21 L450.57,466.44 L451.44,467.66 L452.32,468.88 L453.22,470.09 L454.12,471.29 L455.03,472.49 L455.95,473.68 L456.87,474.86 L457.81,476.04 L458.76,477.21 L459.71,478.37 L460.68,479.53 L461.65,480.68 L462.63,481.82 L463.62,482.95 L464.62,484.08 L465.62,485.19 L466.64,486.30 L467.66,487.40 L468.69,488.50 L469.73,489.58 L470.78,490.66 L471.83,491.73 L472.90,492.78 L473.97,493.84 L475.05,494.88 L476.14,495.91 L477.24,496.93 L478.34,497.95 L479.45,498.95 L480.57,499.95 L481.70,500.93 L482.83,501.91 L483.97,502.88 L485.12,503.83 L486.28,504.78 L487.45,505.72 L488.62,506.64 L489.80,507.56 L490.98,508.47 L492.17,509.37 L493.37,510.26 L494.58,511.14 L495.79,512.02 L497.00,512.88 L498.23,513.74 L499.46,514.59 L500.69,515.43 L501.93,516.27 L503.18,517.09 L504.43,517.91 L505.69,518.72 L506.95,519.53 L508.22,520.33 L509.49,521.12 L510.76,521.91 L512.04,522.69 L513.33,523.46 L514.62,524.23 L515.91,524.99 L517.21,525.75 L518.51,526.50 L519.81,527.25 L521.12,527.99 L522.43,528.73 L523.74,529.46 L525.06,530.19 L526.38,530.91 L527.70,531.64 L529.03,532.35 L530.36,533.06 L531.69,533.77 L533.02,534.47 L534.36,535.17 L535.70,535.86 L537.04,536.55 L538.39,537.24 L539.74,537.91 L541.09,538.58 L542.44,539.25 L543.80,539.91 L545.16,540.56 L546.52,541.21 L547.88,541.85 L549.25,542.48 L550.62,543.11 L552.00,543.73 L553.37,544.34 L554.75,544.95 L556.13,545.54 L557.52,546.13 L558.91,546.72 L560.30,547.29 L561.69,547.86 L563.09,548.41 L564.48,548.96 L565.89,549.50 L567.29,550.03 L568.70,550.56 L570.11,551.07 L571.52,551.57 L572.94,552.07 L574.36,552.55 L575.78,553.03 L577.20,553.49 L578.63,553.95 L580.06,554.39 L581.49,554.82 L582.93,555.24 L584.37,555.66 L585.81,556.06 L587.26,556.45 L588.70,556.82 L590.15,557.19 L591.61,557.54 L593.06,557.89 L594.52,558.22 L595.98,558.54 L597.45,558.85 L598.91,559.16 L600.38,559.45 L601.85,559.74 L603.32,560.01 L604.80,560.28 L606.27,560.55 L607.75,560.80 L609.23,561.05 L610.71,561.29 L612.19,561.53 L613.68,561.76 L615.16,561.99 L616.65,562.21 L618.13,562.43 L619.62,562.65 L621.11,562.86 L622.60,563.08 L624.08,563.29 L625.57,563.49 L627.06,563.70 L628.55,563.91 L630.04,564.11 L631.53,564.32 L633.02,564.53 L634.51,564.74 L636.00,564.95 L637.49,565.16 L638.98,565.37 L640.47,565.59 L641.95,565.81 L643.44,566.04 L644.92,566.27 L646.41,566.50 L647.89,566.74 L649.37,566.98 L650.85,567.23 L652.33,567.49 L653.81,567.76 L655.28,568.03 L656.75,568.31 L658.23,568.59 L659.69,568.89 L661.16,569.19 L662.63,569.51 L664.09,569.83 L665.55,570.17 L667.01,570.51 L668.46,570.87 L669.91,571.23 L671.37,571.60 L672.82,571.98 L674.26,572.36 L675.71,572.76 L677.15,573.16 L678.59,573.57 L680.03,573.98 L681.47,574.41 L682.91,574.83 L684.35,575.27 L685.78,575.71 L687.21,576.15 L688.65,576.61 L690.08,577.06 L691.51,577.52 L692.94,577.99 L694.36,578.45 L695.79,578.93 L697.22,579.40 L698.64,579.88 L700.07,580.36 L701.49,580.85 L702.91,581.34 L704.33,581.82 L705.76,582.32 L707.18,582.81 L708.60,583.30 L710.02,583.80 L711.44,584.29 L712.86,584.79 L714.28,585.28 L715.70,585.78 L717.13,586.27 L718.55,586.76 L719.97,587.26 L721.39,587.75 L722.81,588.24 L724.23,588.73 L725.66,589.21 L727.08,589.70 L728.50,590.18 L729.93,590.66 L731.35,591.13 L732.78,591.60 L734.21,592.07 L735.63,592.53 L737.06,592.99 L738.49,593.44 L739.92,593.89 L741.36,594.34 L742.79,594.78 L744.22,595.21 L745.66,595.64 L747.09,596.07 L748.53,596.50 L749.97,596.92 L751.41,597.34 L752.85,597.75 L754.29,598.16 L755.73,598.57 L757.17,598.97 L758.61,599.37 L760.06,599.77 L761.50,600.16 L762.95,600.56 L764.39,600.95 L765.84,601.33 L767.29,601.72 L768.73,602.10 L770.18,602.48 L771.63,602.86 L773.08,603.24 L774.53,603.61 L775.98,603.99 L777.43,604.36 L778.88,604.73 L780.34,605.10 L781.79,605.47 L783.24,605.83 L784.70,606.20 L786.15,606.56 L787.60,606.93 L789.06,607.29 L790.51,607.65 L791.97,608.02 L793.43,608.38 L794.88,608.74 L796.34,609.11 L797.80,609.47 L799.25,609.83 L800.71,610.19 L802.17,610.56 L803.63,610.92 L805.08,611.29 L806.54,611.65 L808.00,612.02 L809.46,612.39 L810.92,612.75 L812.37,613.12 L813.83,613.49 L815.29,613.86 L816.75,614.22 L818.21,614.59 L819.67,614.96 L821.13,615.33 L822.59,615.69 L824.05,616.06 L825.51,616.42 L826.97,616.79 L828.44,617.15 L829.90,617.52 L831.36,617.88 L832.82,618.24 L834.28,618.60 L835.75,618.95 L837.21,619.31 L838.67,619.66 L840.14,620.02 L841.60,620.37 L843.07,620.71 L844.53,621.06 L846.00,621.41 L847.46,621.75 L848.93,622.09 L850.40,622.42 L851.86,622.76 L853.33,623.09 L854.80,623.42 L856.27,623.74 L857.74,624.07 L859.21,624.38 L860.68,624.70 L862.15,625.01 L863.62,625.32 L865.09,625.63 L866.56,625.93 L868.03,626.23 L869.50,626.52 L870.98,626.81 L872.45,627.09 L873.93,627.37 L875.40,627.65 L876.88,627.92 L878.35,628.19 L879.83,628.45 L881.31,628.71 L882.79,628.96 L884.26,629.21 L885.74,629.46 L887.22,629.70 L888.70,629.94 L890.18,630.17 L891.66,630.40 L893.14,630.62 L894.63,630.84 L896.11,631.06 L897.59,631.27 L899.08,631.48 L900.56,631.69 L902.04,631.89 L903.53,632.09 L905.01,632.28 L906.50,632.47 L907.99,632.65 L909.47,632.84 L910.96,633.02 L912.45,633.19 L913.94,633.36 L915.42,633.53 L916.91,633.70 L918.40,633.86 L919.89,634.02 L921.38,634.17 L922.87,634.32 L924.36,634.47 L925.86,634.61 L927.35,634.76 L928.84,634.90 L930.33,635.03 L931.82,635.16 L933.32,635.29 L934.81,635.42 L936.31,635.54 L937.80,635.66 L939.29,635.78 L940.79,635.90 L942.28,636.01 L943.78,636.12 L945.28,636.23 L946.77,636.33 L948.27,636.43 L949.77,636.53 L951.26,636.63 L952.76,636.72 L954.26,636.81 L955.76,636.90 L957.25,636.99 L958.75,637.07 L960.25,637.16 L961.75,637.24 L963.25,637.31 L964.75,637.39 L966.25,637.46 L967.75,637.53 L969.25,637.60 L970.75,637.67 L972.25,637.74 L973.75,637.80 L975.25,637.86 L976.75,637.92 L978.26,637.98 L979.76,638.04 L981.26,638.09 L982.76,638.14 L984.26,638.19 L985.77,638.24 L987.27,638.29 L988.77,638.34 L990.27,638.38 L991.78,638.43 L993.28,638.47 L994.78,638.51 L996.29,638.55 L997.79,638.59 L999.30,638.62 L1000.80,638.66 L1002.30,638.69 L1003.81,638.72 L1005.31,638.76 L1006.82,638.79 L1008.32,638.82 L1009.83,638.85 L1011.33,638.88 L1012.83,638.90 L1014.34,638.93 L1015.84,638.95 L1017.35,638.98 L1018.85,639.00 L1020.36,639.03 L1021.86,639.05 L1023.37,639.07 L1024.87,639.09 L1026.38,639.11 L1027.89,639.13 L1029.39,639.15 L1030.90,639.17 L1032.40,639.19 L1033.91,639.21 L1035.41,639.23 L1036.92,639.25 L1038.42,639.27 L1039.93,639.28 L1041.43,639.30 L1042.94,639.32 L1044.44,639.34 L1045.95,639.36 L1047.45,639.37 L1048.96,639.39 L1050.46,639.41 L1051.97,639.43 L1053.47,639.44 L1054.98,639.46 L1056.48,639.48 L1057.99,639.50 L1059.49,639.52 L1061.00,639.54 L1062.50,639.56 L1064.00,639.58 L1065.51,639.60 L1067.01,639.62 L1068.52,639.64 L1070.02,639.67 L1071.52,639.69 L1073.03,639.71 L1074.53,639.74 L1076.03,639.76 L1077.54,639.79 L1079.04,639.82 L1080.54,639.85 L1082.05,639.87 L1083.55,639.90 L1085.05,639.94 L1086.55,639.97 L1088.05,640.00 L1089.56,640.04 L1091.06,640.07 L1092.56,640.11 L1094.06,640.15 L1095.56,640.18 L1097.06,640.23 L1098.56,640.27 L1100.06,640.31 L1101.56,640.36 L1103.06,640.40 L1104.56,640.45 L1106.06,640.50 L1107.56,640.55 L1109.06,640.60 L1110.55,640.66 L1112.05,640.71 L1113.55,640.77 L1115.05,640.83 L1116.55,640.89 L1118.04,640.96 L1119.54,641.02 L1121.04,641.09 L1122.53,641.16 L1124.03,641.23 L1125.52,641.30 L1127.02,641.38 L1128.51,641.46 L1130.01,641.54 L1131.50,641.62 L1132.99,641.70 L1134.49,641.79 L1135.98,641.88 L1137.47,641.97 L1138.97,642.06 L1140.46,642.16 L1141.95,642.26 L1143.50,642.00 L1143.50,644 L112.00,644 Z" fill="rgba(255,196,0,0.54)"/>
  <path d="M112.00,644.00 L113.50,644.06 L115.05,644.03 L116.59,644.01 L118.13,643.98 L119.66,643.95 L121.19,643.93 L122.71,643.90 L124.23,643.88 L125.75,643.85 L127.26,643.82 L128.77,643.80 L130.27,643.77 L131.77,643.74 L133.27,643.71 L134.76,643.68 L136.25,643.65 L137.74,643.62 L139.23,643.59 L140.71,643.55 L142.20,643.52 L143.68,643.48 L145.16,643.43 L146.64,643.39 L148.11,643.35 L149.59,643.30 L151.06,643.24 L152.54,643.19 L154.01,643.13 L155.48,643.07 L156.96,643.01 L158.43,642.94 L159.91,642.87 L161.38,642.79 L162.86,642.71 L164.33,642.63 L165.81,642.54 L167.29,642.45 L168.77,642.35 L170.25,642.25 L171.74,642.14 L173.23,642.03 L174.71,641.91 L176.21,641.79 L177.70,641.66 L179.20,641.53 L180.70,641.39 L182.20,641.24 L183.71,641.09 L185.22,640.93 L186.73,640.77 L188.25,640.59 L189.78,640.41 L191.30,640.23 L192.83,640.03 L194.36,639.82 L195.89,639.61 L197.42,639.38 L198.95,639.14 L200.47,638.88 L202.00,638.62 L203.51,638.33 L205.03,638.03 L206.53,637.71 L208.03,637.38 L209.52,637.02 L211.00,636.65 L212.47,636.26 L213.93,635.84 L215.38,635.40 L216.81,634.93 L218.23,634.45 L219.64,633.93 L221.03,633.39 L222.40,632.82 L223.76,632.23 L225.10,631.61 L226.43,630.97 L227.73,630.30 L229.03,629.61 L230.31,628.89 L231.57,628.15 L232.82,627.38 L234.05,626.60 L235.27,625.79 L236.48,624.96 L237.67,624.11 L238.85,623.23 L240.01,622.34 L241.16,621.43 L242.29,620.50 L243.41,619.54 L244.52,618.58 L245.62,617.59 L246.70,616.58 L247.77,615.56 L248.83,614.52 L249.87,613.47 L250.90,612.40 L251.92,611.31 L252.93,610.21 L253.92,609.10 L254.91,607.97 L255.88,606.83 L256.84,605.67 L257.79,604.50 L258.73,603.32 L259.66,602.13 L260.58,600.93 L261.49,599.72 L262.39,598.49 L263.27,597.26 L264.15,596.02 L265.02,594.77 L265.88,593.51 L266.72,592.24 L267.56,590.96 L268.39,589.68 L269.21,588.39 L270.03,587.10 L270.83,585.80 L271.62,584.49 L272.41,583.18 L273.19,581.87 L273.96,580.55 L274.72,579.23 L275.48,577.90 L276.23,576.58 L276.97,575.25 L277.70,573.92 L278.43,572.58 L279.15,571.25 L279.86,569.91 L280.56,568.57 L281.26,567.23 L281.96,565.89 L282.64,564.54 L283.32,563.20 L284.00,561.85 L284.67,560.50 L285.33,559.15 L285.99,557.79 L286.64,556.44 L287.29,555.08 L287.93,553.72 L288.57,552.36 L289.20,551.00 L289.83,549.64 L290.45,548.28 L291.07,546.91 L291.68,545.54 L292.29,544.18 L292.90,542.81 L293.50,541.44 L294.10,540.06 L294.69,538.69 L295.28,537.32 L295.87,535.94 L296.46,534.57 L297.04,533.19 L297.61,531.81 L298.19,530.43 L298.76,529.05 L299.33,527.67 L299.90,526.29 L300.47,524.91 L301.03,523.53 L301.59,522.14 L302.15,520.76 L302.71,519.37 L303.26,517.99 L303.82,516.60 L304.37,515.21 L304.92,513.82 L305.47,512.44 L306.02,511.05 L306.57,509.66 L307.12,508.27 L307.67,506.88 L308.21,505.49 L308.76,504.10 L309.31,502.71 L309.85,501.32 L310.40,499.93 L310.95,498.54 L311.49,497.15 L312.04,495.76 L312.59,494.36 L313.14,492.97 L313.69,491.58 L314.24,490.19 L314.80,488.80 L315.35,487.41 L315.91,486.02 L316.46,484.63 L317.02,483.24 L317.58,481.85 L318.15,480.46 L318.71,479.07 L319.28,477.68 L319.85,476.29 L320.42,474.90 L320.99,473.52 L321.57,472.13 L322.15,470.74 L322.73,469.36 L323.31,467.97 L323.90,466.59 L324.49,465.21 L325.08,463.83 L325.68,462.44 L326.28,461.06 L326.88,459.69 L327.48,458.31 L328.09,456.93 L328.70,455.55 L329.32,454.18 L329.93,452.81 L330.56,451.43 L331.18,450.06 L331.81,448.69 L332.44,447.33 L333.08,445.96 L333.72,444.59 L334.36,443.23 L335.01,441.87 L335.67,440.51 L336.32,439.15 L336.98,437.79 L337.65,436.44 L338.32,435.08 L338.99,433.73 L339.67,432.38 L340.36,431.04 L341.04,429.69 L341.74,428.35 L342.44,427.00 L343.14,425.67 L343.85,424.33 L344.56,422.99 L345.28,421.66 L346.00,420.33 L346.73,419.00 L347.47,417.68 L348.21,416.35 L348.95,415.04 L349.71,413.72 L350.47,412.42 L351.25,411.12 L352.05,409.84 L352.86,408.58 L353.70,407.34 L354.56,406.11 L355.44,404.92 L356.36,403.75 L357.30,402.61 L358.28,401.50 L359.30,400.42 L360.35,399.39 L361.44,398.39 L362.58,397.44 L363.77,396.53 L365.00,395.67 L366.28,394.87 L367.60,394.12 L368.97,393.43 L370.37,392.83 L371.79,392.30 L373.24,391.86 L374.71,391.51 L376.19,391.27 L377.67,391.14 L379.16,391.12 L380.64,391.23 L382.11,391.45 L383.57,391.78 L385.01,392.19 L386.43,392.70 L387.83,393.28 L389.19,393.93 L390.52,394.63 L391.82,395.38 L393.09,396.18 L394.33,397.02 L395.55,397.89 L396.75,398.79 L397.94,399.71 L399.12,400.66 L400.29,401.61 L401.45,402.57 L402.61,403.54 L403.76,404.52 L404.90,405.52 L406.03,406.52 L407.15,407.53 L408.26,408.55 L409.36,409.59 L410.44,410.63 L411.52,411.69 L412.58,412.75 L413.62,413.83 L414.65,414.92 L415.67,416.03 L416.66,417.14 L417.65,418.27 L418.61,419.40 L419.57,420.55 L420.51,421.71 L421.44,422.88 L422.35,424.05 L423.26,425.24 L424.15,426.43 L425.03,427.63 L425.90,428.84 L426.77,430.06 L427.62,431.28 L428.47,432.51 L429.31,433.75 L430.14,434.99 L430.97,436.23 L431.79,437.48 L432.61,438.74 L433.42,439.99 L434.23,441.26 L435.03,442.52 L435.83,443.78 L436.63,445.05 L437.43,446.32 L438.23,447.59 L439.03,448.86 L439.83,450.13 L440.63,451.40 L441.44,452.67 L442.24,453.93 L443.05,455.20 L443.86,456.46 L444.68,457.72 L445.50,458.98 L446.33,460.23 L447.16,461.48 L448.00,462.73 L448.85,463.97 L449.70,465.21 L450.57,466.44 L451.44,467.66 L452.32,468.88 L453.22,470.09 L454.12,471.29 L455.03,472.49 L455.95,473.68 L456.87,474.86 L457.81,476.04 L458.76,477.21 L459.71,478.37 L460.68,479.53 L461.65,480.68 L462.63,481.82 L463.62,482.95 L464.62,484.08 L465.62,485.19 L466.64,486.30 L467.66,487.40 L468.69,488.50 L469.73,489.58 L470.78,490.66 L471.83,491.73 L472.90,492.78 L473.97,493.84 L475.05,494.88 L476.14,495.91 L477.24,496.93 L478.34,497.95 L479.45,498.95 L480.57,499.95 L481.70,500.93 L482.83,501.91 L483.97,502.88 L485.12,503.83 L486.28,504.78 L487.45,505.72 L488.62,506.64 L489.80,507.56 L490.98,508.47 L492.17,509.37 L493.37,510.26 L494.58,511.14 L495.79,512.02 L497.00,512.88 L498.23,513.74 L499.46,514.59 L500.69,515.43 L501.93,516.27 L503.18,517.09 L504.43,517.91 L505.69,518.72 L506.95,519.53 L508.22,520.33 L509.49,521.12 L510.76,521.91 L512.04,522.69 L513.33,523.46 L514.62,524.23 L515.91,524.99 L517.21,525.75 L518.51,526.50 L519.81,527.25 L521.12,527.99 L522.43,528.73 L523.74,529.46 L525.06,530.19 L526.38,530.91 L527.70,531.64 L529.03,532.35 L530.36,533.06 L531.69,533.77 L533.02,534.47 L534.36,535.17 L535.70,535.86 L537.04,536.55 L538.39,537.24 L539.74,537.91 L541.09,538.58 L542.44,539.25 L543.80,539.91 L545.16,540.56 L546.52,541.21 L547.88,541.85 L549.25,542.48 L550.62,543.11 L552.00,543.73 L553.37,544.34 L554.75,544.95 L556.13,545.54 L557.52,546.13 L558.91,546.72 L560.30,547.29 L561.69,547.86 L563.09,548.41 L564.48,548.96 L565.89,549.50 L567.29,550.03 L568.70,550.56 L570.11,551.07 L571.52,551.57 L572.94,552.07 L574.36,552.55 L575.78,553.03 L577.20,553.49 L578.63,553.95 L580.06,554.39 L581.49,554.82 L582.93,555.24 L584.37,555.66 L585.81,556.06 L587.26,556.45 L588.70,556.82 L590.15,557.19 L591.61,557.54 L593.06,557.89 L594.52,558.22 L595.98,558.54 L597.45,558.85 L598.91,559.16 L600.38,559.45 L601.85,559.74 L603.32,560.01 L604.80,560.28 L606.27,560.55 L607.75,560.80 L609.23,561.05 L610.71,561.29 L612.19,561.53 L613.68,561.76 L615.16,561.99 L616.65,562.21 L618.13,562.43 L619.62,562.65 L621.11,562.86 L622.60,563.08 L624.08,563.29 L625.57,563.49 L627.06,563.70 L628.55,563.91 L630.04,564.11 L631.53,564.32 L633.02,564.53 L634.51,564.74 L636.00,564.95 L637.49,565.16 L638.98,565.37 L640.47,565.59 L641.95,565.81 L643.44,566.04 L644.92,566.27 L646.41,566.50 L647.89,566.74 L649.37,566.98 L650.85,567.23 L652.33,567.49 L653.81,567.76 L655.28,568.03 L656.75,568.31 L658.23,568.59 L659.69,568.89 L661.16,569.19 L662.63,569.51 L664.09,569.83 L665.55,570.17 L667.01,570.51 L668.46,570.87 L669.91,571.23 L671.37,571.60 L672.82,571.98 L674.26,572.36 L675.71,572.76 L677.15,573.16 L678.59,573.57 L680.03,573.98 L681.47,574.41 L682.91,574.83 L684.35,575.27 L685.78,575.71 L687.21,576.15 L688.65,576.61 L690.08,577.06 L691.51,577.52 L692.94,577.99 L694.36,578.45 L695.79,578.93 L697.22,579.40 L698.64,579.88 L700.07,580.36 L701.49,580.85 L702.91,581.34 L704.33,581.82 L705.76,582.32 L707.18,582.81 L708.60,583.30 L710.02,583.80 L711.44,584.29 L712.86,584.79 L714.28,585.28 L715.70,585.78 L717.13,586.27 L718.55,586.76 L719.97,587.26 L721.39,587.75 L722.81,588.24 L724.23,588.73 L725.66,589.21 L727.08,589.70 L728.50,590.18 L729.93,590.66 L731.35,591.13 L732.78,591.60 L734.21,592.07 L735.63,592.53 L737.06,592.99 L738.49,593.44 L739.92,593.89 L741.36,594.34 L742.79,594.78 L744.22,595.21 L745.66,595.64 L747.09,596.07 L748.53,596.50 L749.97,596.92 L751.41,597.34 L752.85,597.75 L754.29,598.16 L755.73,598.57 L757.17,598.97 L758.61,599.37 L760.06,599.77 L761.50,600.16 L762.95,600.56 L764.39,600.95 L765.84,601.33 L767.29,601.72 L768.73,602.10 L770.18,602.48 L771.63,602.86 L773.08,603.24 L774.53,603.61 L775.98,603.99 L777.43,604.36 L778.88,604.73 L780.34,605.10 L781.79,605.47 L783.24,605.83 L784.70,606.20 L786.15,606.56 L787.60,606.93 L789.06,607.29 L790.51,607.65 L791.97,608.02 L793.43,608.38 L794.88,608.74 L796.34,609.11 L797.80,609.47 L799.25,609.83 L800.71,610.19 L802.17,610.56 L803.63,610.92 L805.08,611.29 L806.54,611.65 L808.00,612.02 L809.46,612.39 L810.92,612.75 L812.37,613.12 L813.83,613.49 L815.29,613.86 L816.75,614.22 L818.21,614.59 L819.67,614.96 L821.13,615.33 L822.59,615.69 L824.05,616.06 L825.51,616.42 L826.97,616.79 L828.44,617.15 L829.90,617.52 L831.36,617.88 L832.82,618.24 L834.28,618.60 L835.75,618.95 L837.21,619.31 L838.67,619.66 L840.14,620.02 L841.60,620.37 L843.07,620.71 L844.53,621.06 L846.00,621.41 L847.46,621.75 L848.93,622.09 L850.40,622.42 L851.86,622.76 L853.33,623.09 L854.80,623.42 L856.27,623.74 L857.74,624.07 L859.21,624.38 L860.68,624.70 L862.15,625.01 L863.62,625.32 L865.09,625.63 L866.56,625.93 L868.03,626.23 L869.50,626.52 L870.98,626.81 L872.45,627.09 L873.93,627.37 L875.40,627.65 L876.88,627.92 L878.35,628.19 L879.83,628.45 L881.31,628.71 L882.79,628.96 L884.26,629.21 L885.74,629.46 L887.22,629.70 L888.70,629.94 L890.18,630.17 L891.66,630.40 L893.14,630.62 L894.63,630.84 L896.11,631.06 L897.59,631.27 L899.08,631.48 L900.56,631.69 L902.04,631.89 L903.53,632.09 L905.01,632.28 L906.50,632.47 L907.99,632.65 L909.47,632.84 L910.96,633.02 L912.45,633.19 L913.94,633.36 L915.42,633.53 L916.91,633.70 L918.40,633.86 L919.89,634.02 L921.38,634.17 L922.87,634.32 L924.36,634.47 L925.86,634.61 L927.35,634.76 L928.84,634.90 L930.33,635.03 L931.82,635.16 L933.32,635.29 L934.81,635.42 L936.31,635.54 L937.80,635.66 L939.29,635.78 L940.79,635.90 L942.28,636.01 L943.78,636.12 L945.28,636.23 L946.77,636.33 L948.27,636.43 L949.77,636.53 L951.26,636.63 L952.76,636.72 L954.26,636.81 L955.76,636.90 L957.25,636.99 L958.75,637.07 L960.25,637.16 L961.75,637.24 L963.25,637.31 L964.75,637.39 L966.25,637.46 L967.75,637.53 L969.25,637.60 L970.75,637.67 L972.25,637.74 L973.75,637.80 L975.25,637.86 L976.75,637.92 L978.26,637.98 L979.76,638.04 L981.26,638.09 L982.76,638.14 L984.26,638.19 L985.77,638.24 L987.27,638.29 L988.77,638.34 L990.27,638.38 L991.78,638.43 L993.28,638.47 L994.78,638.51 L996.29,638.55 L997.79,638.59 L999.30,638.62 L1000.80,638.66 L1002.30,638.69 L1003.81,638.72 L1005.31,638.76 L1006.82,638.79 L1008.32,638.82 L1009.83,638.85 L1011.33,638.88 L1012.83,638.90 L1014.34,638.93 L1015.84,638.95 L1017.35,638.98 L1018.85,639.00 L1020.36,639.03 L1021.86,639.05 L1023.37,639.07 L1024.87,639.09 L1026.38,639.11 L1027.89,639.13 L1029.39,639.15 L1030.90,639.17 L1032.40,639.19 L1033.91,639.21 L1035.41,639.23 L1036.92,639.25 L1038.42,639.27 L1039.93,639.28 L1041.43,639.30 L1042.94,639.32 L1044.44,639.34 L1045.95,639.36 L1047.45,639.37 L1048.96,639.39 L1050.46,639.41 L1051.97,639.43 L1053.47,639.44 L1054.98,639.46 L1056.48,639.48 L1057.99,639.50 L1059.49,639.52 L1061.00,639.54 L1062.50,639.56 L1064.00,639.58 L1065.51,639.60 L1067.01,639.62 L1068.52,639.64 L1070.02,639.67 L1071.52,639.69 L1073.03,639.71 L1074.53,639.74 L1076.03,639.76 L1077.54,639.79 L1079.04,639.82 L1080.54,639.85 L1082.05,639.87 L1083.55,639.90 L1085.05,639.94 L1086.55,639.97 L1088.05,640.00 L1089.56,640.04 L1091.06,640.07 L1092.56,640.11 L1094.06,640.15 L1095.56,640.18 L1097.06,640.23 L1098.56,640.27 L1100.06,640.31 L1101.56,640.36 L1103.06,640.40 L1104.56,640.45 L1106.06,640.50 L1107.56,640.55 L1109.06,640.60 L1110.55,640.66 L1112.05,640.71 L1113.55,640.77 L1115.05,640.83 L1116.55,640.89 L1118.04,640.96 L1119.54,641.02 L1121.04,641.09 L1122.53,641.16 L1124.03,641.23 L1125.52,641.30 L1127.02,641.38 L1128.51,641.46 L1130.01,641.54 L1131.50,641.62 L1132.99,641.70 L1134.49,641.79 L1135.98,641.88 L1137.47,641.97 L1138.97,642.06 L1140.46,642.16 L1141.95,642.26 L1143.50,642.00" fill="none" stroke="#d9a400" stroke-width="3.4" stroke-linejoin="round"/>
  <!-- annotation -->
  <text x="452" y="243" font-size="22" font-weight="bold" fill="#2a2a2a">35% of non-managers score above the manager median</text>
  <!-- ticks -->
  <g font-size="21.8" fill="#757575" text-anchor="middle">
    <text x="112.3" y="671.7">-2</text>
    <text x="284.2" y="671.7">-1</text>
    <text x="456" y="671.7">+0</text>
    <text x="627.8" y="671.7">+1</text>
    <text x="799.7" y="671.7">+2</text>
    <text x="971.5" y="671.7">+3</text>
    <text x="1143.3" y="671.7">+4</text>
  </g>
  <text x="627.2" y="704" font-size="22" fill="#808080" text-anchor="middle" letter-spacing="0.05">Composite trust z-score (0 = company mean)</text>
  <text x="45.7" y="753" font-size="18" font-style="italic" fill="#8e8e8e" letter-spacing="0.37">Source: Happily People Science, April 2026. 365-day peer-feedback and recognition activity.</text>
</svg>
</body></html>
